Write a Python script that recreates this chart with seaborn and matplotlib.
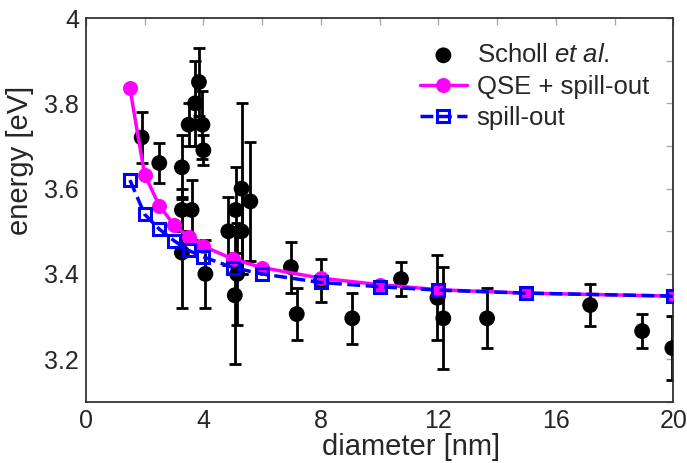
import numpy as np
import matplotlib
matplotlib.use("Agg")
import matplotlib.pyplot as plt
import matplotlib.ticker as mticker
import seaborn as sns

# Scholl et al. measurements: diameter [nm], energy [eV], error [eV]
scholl_d = [1.9, 2.5, 3.27, 3.27, 3.27, 3.6, 3.5, 3.72, 3.85, 3.97, 4.0, 4.07,
            4.85, 5.1, 5.3, 5.3, 5.6, 5.15, 5.07, 6.98, 7.18, 8.0, 9.07,
            10.73, 11.97, 12.17, 13.66, 17.17, 18.94, 19.97]
scholl_e = [3.72, 3.66, 3.65, 3.55, 3.45, 3.55, 3.75, 3.80, 3.85, 3.75, 3.69, 3.40,
            3.50, 3.55, 3.60, 3.50, 3.57, 3.40, 3.35, 3.416, 3.306, 3.385, 3.296,
            3.388, 3.344, 3.296, 3.296, 3.327, 3.266, 3.226]
scholl_err = [0.06, 0.046, 0.075, 0.05, 0.13, 0.07, 0.05, 0.10, 0.08, 0.08, 0.035, 0.08,
              0.08, 0.10, 0.20, 0.10, 0.14, 0.12, 0.16, 0.06, 0.06, 0.05, 0.06,
              0.04, 0.10, 0.12, 0.07, 0.05, 0.04, 0.075]

# model curves
model_d = [1.5, 2, 2.5, 3, 3.5, 4, 5, 6, 8, 10, 12, 15, 20]
qse_spill = [3.835, 3.633, 3.56, 3.515, 3.487, 3.465, 3.435, 3.415, 3.39, 3.375, 3.363, 3.355, 3.348]
spill_only = [3.62, 3.54, 3.505, 3.478, 3.455, 3.44, 3.415, 3.40, 3.38, 3.37, 3.362, 3.355, 3.348]

sns.set_theme(style="white")
plt.rcParams['font.family'] = ['Liberation Sans', 'DejaVu Sans']
plt.rcParams['mathtext.fontset'] = 'custom'
plt.rcParams['mathtext.rm'] = 'Liberation Sans'
plt.rcParams['mathtext.it'] = 'Liberation Sans:italic'

fig = plt.figure(figsize=(6.87, 4.63), dpi=100)
ax = fig.add_axes([0.125, 0.132, 0.855, 0.829])

ax.errorbar(scholl_d, scholl_e, yerr=scholl_err, fmt='none', ecolor='black',
            elinewidth=2.0, capsize=4, capthick=2.0, zorder=2)
sns.scatterplot(x=scholl_d, y=scholl_e, color='black', s=130, edgecolor='none',
                label=r'Scholl $\it{et\ al}$.', ax=ax, zorder=3)
sns.lineplot(x=model_d, y=qse_spill, color='magenta', linewidth=2.5, marker='o',
             markersize=10, markeredgecolor='magenta', label='QSE + spill-out',
             ax=ax, zorder=4)
sns.lineplot(x=model_d, y=spill_only, color='#0000ff', linewidth=2.5, linestyle='--',
             dashes=(2.2, 1.2), marker='s', markersize=8, markerfacecolor='none',
             markeredgecolor='#0000ff', markeredgewidth=2.2, label='spill-out',
             ax=ax, zorder=5)

ax.set_xlim(0, 20)
ax.set_ylim(3.1, 4.0)
ax.xaxis.set_major_locator(mticker.MultipleLocator(4))
ax.xaxis.set_minor_locator(mticker.MultipleLocator(2))
ax.yaxis.set_major_locator(mticker.MultipleLocator(0.2))
ax.yaxis.set_minor_locator(mticker.MultipleLocator(0.1))
ax.yaxis.set_major_formatter(mticker.FuncFormatter(lambda v, p: f"{v:g}"))
ax.tick_params(which='both', direction='in', top=True, right=True, length=5,
               width=1, color='#aaaaaa', labelsize=18, pad=5)
for sp in ax.spines.values():
    sp.set_color('#333333')
    sp.set_linewidth(1.3)

ax.set_xlabel('diameter [nm]', fontsize=21)
ax.set_ylabel('energy [eV]', fontsize=21)
ax.xaxis.set_label_coords(0.554, -0.08)
ax.yaxis.set_label_coords(-0.088, 0.63)

ax.legend(loc='upper right', bbox_to_anchor=(0.985, 0.975), frameon=False,
          fontsize=18.5, handlelength=1.8, handletextpad=0.4, labelspacing=0.3,
          borderaxespad=0.2)

fig.savefig('out.png', dpi=100)
